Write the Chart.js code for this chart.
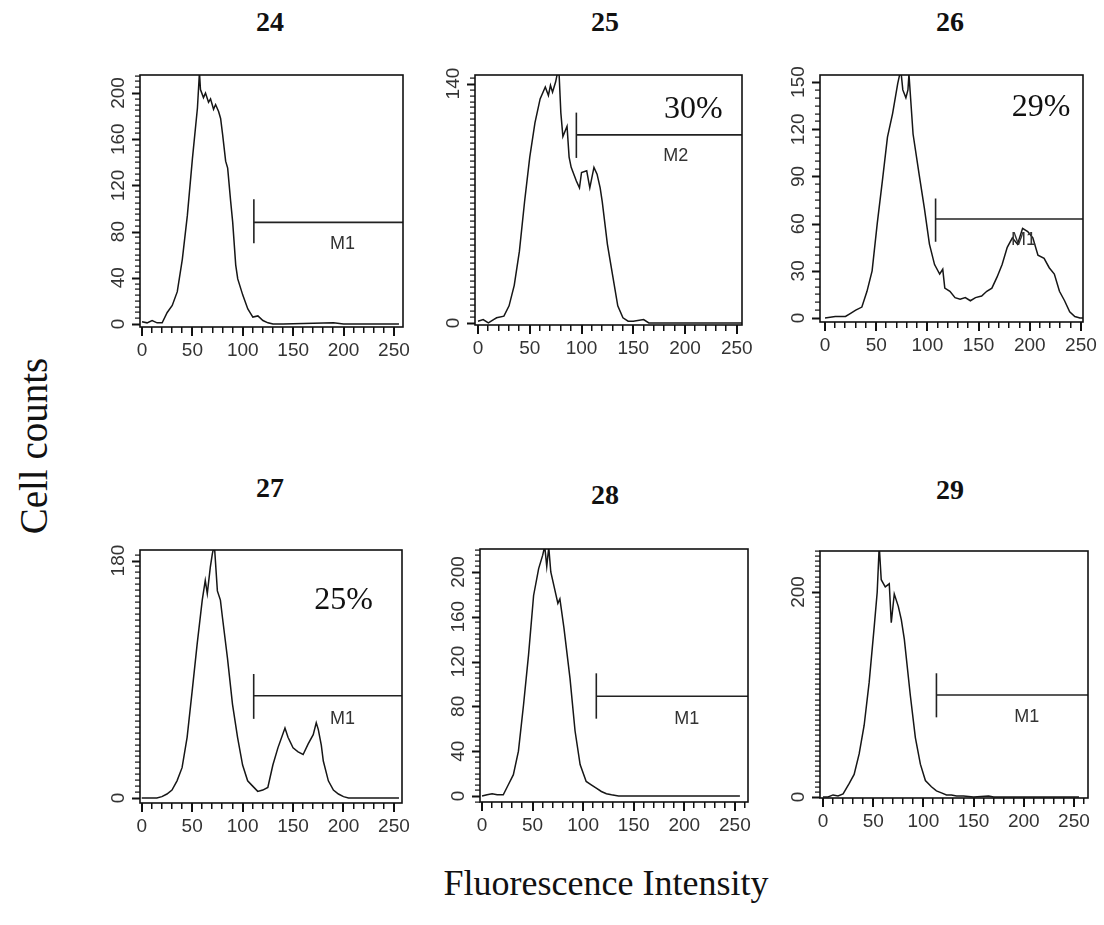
<!DOCTYPE html>
<html>
<head>
<meta charset="utf-8">
<script src="https://cdn.jsdelivr.net/npm/chart.js@4.4.1/dist/chart.umd.min.js"></script>
<style>
  body { margin: 0; background: #fff; width: 1104px; height: 925px; position: relative; overflow: hidden; }
  .panel { position: absolute; line-height: 0; }
  .panel canvas { display: block; }
  .title { position: absolute; transform: translate(-50%, -50%); font: bold 28px 'Liberation Serif', serif; color: #111; }
  .axis { position: absolute; transform: translate(-50%, -50%); font: 36px 'Liberation Serif', serif; color: #111; white-space: nowrap; }
</style>
</head>
<body>
<div class="title" style="left:270px;top:22px">24</div>
<div class="title" style="left:605px;top:22px">25</div>
<div class="title" style="left:950px;top:22px">26</div>
<div class="title" style="left:270px;top:488px">27</div>
<div class="title" style="left:605px;top:495px">28</div>
<div class="title" style="left:950px;top:490px">29</div>
<div class="axis" style="left:33px;top:446px;font-size:39px;transform:translate(-50%,-50%) rotate(-90deg)">Cell counts</div>
<div class="axis" style="left:606px;top:883px">Fluorescence Intensity</div>

<script>
// histogram channels / counts
const chan24 = [0,5,10,15,20,25,30,35,40,45,50,55,57,58,61,63,66,68,71,73,76,78,80,83,85,88,90,93,95,100,105,110,115,120,125,130,140,190,200,255];
const count24 = [2,1,3,1,1,10,16,28,56,94,143,187,218,203,196,200,192,195,186,190,184,178,164,141,135,106,88,51,39,25,13,6,7,3,1,0,0,1,0,0];

const chan25 = [0,5,10,15,18,25,30,35,40,45,50,55,60,65,68,70,72,75,78,80,82,86,88,90,95,98,100,105,108,112,115,118,120,125,130,135,140,145,150,160,165,255];
const count25 = [1,2,0,2,3,4,10,22,42,71,97,117,131,138,133,139,135,141,150,123,109,115,97,91,83,79,88,89,79,91,87,79,71,46,28,10,3,1,1,2,0,0];

const chan26 = [0,10,20,25,30,36,41,46,51,56,61,66,71,74,76,79,81,82,86,92,97,102,107,112,115,117,122,127,132,137,142,147,153,158,163,168,173,178,183,188,193,198,203,208,214,219,224,229,234,239,244,249,255];
const count26 = [0,1,1,3,5,7,17,30,60,87,115,130,149,158,145,140,145,155,117,91,70,47,34,28,31,19,17,13,12,13,11,13,14,17,19,26,34,45,51,47,57,55,51,40,38,32,28,17,11,4,1,0,0];

const chan27 = [0,15,20,25,30,35,40,45,50,55,60,63,65,68,70,72,75,78,80,85,90,95,100,105,110,115,120,125,130,135,142,145,150,155,160,165,170,173,175,178,180,185,190,195,200,205,255];
const count27 = [0,0,1,3,6,13,23,46,81,117,150,165,155,175,185,192,157,150,137,106,71,46,25,13,9,5,6,8,25,38,53,46,38,35,33,41,48,57,52,40,28,13,6,3,1,0,0];

const chan28 = [0,5,10,15,21,26,31,36,41,46,51,56,60,62,64,66,68,71,75,77,81,87,92,97,103,108,113,118,123,128,135,255];
const count28 = [0,1,2,1,1,10,19,40,81,126,179,203,215,223,205,222,200,188,172,176,150,105,58,28,13,10,7,4,2,1,0,0];

const chan29 = [0,5,10,15,20,26,31,36,41,46,51,54,56,58,62,66,68,71,75,78,81,87,92,97,102,108,113,118,123,128,133,140,150,165,170,255];
const count29 = [0,0,2,1,3,13,22,42,70,112,166,200,245,212,205,208,170,198,186,173,154,99,58,32,16,10,6,4,2,2,1,1,0,1,0,0];

// tick labels
const xLabels = [0, 50, 100, 150, 200, 250];
const yLabels24 = [0, 40, 80, 120, 160, 200];
const yLabels25 = [0, 140];
const yLabels26 = [0, 30, 60, 90, 120, 150];
const yLabels27 = [0, 180];
const yLabels28 = [0, 40, 80, 120, 160, 200];
const yLabels29 = [0, 200];

// marker gates (channel start, level, bar low/high) and labels
const gateStart = [111, 95, 108, 111, 113, 113];
const gateLevel = [88, 110, 63, 77.5, 89, 99.5];
const gateLow = [70, 96.5, 48.5, 60, 69, 77.7];
const gateHigh = [108, 123, 76, 94, 109.5, 120.7];
const gateName = ['M1', 'M2', 'M1', 'M1', 'M1', 'M1'];
const percentText = ['', '30%', '29%', '25%', '', ''];

// layout of each panel: plot box in page pixels, axis ranges, text anchors (data units)
const panels = [
  { chan: chan24, count: count24, yLabels: yLabels24, box: [140, 75, 403, 327], x: [-2, 259], y: [-2.6, 215.6], yStep: 5, nameAt: [199, 69], pctAt: null },
  { chan: chan25, count: count25, yLabels: yLabels25, box: [475, 75, 742, 325], x: [-2.9, 255], y: [-1.2, 145], yStep: 3.5, nameAt: [191, 97.5], pctAt: [208, 125] },
  { chan: chan26, count: count26, yLabels: yLabels26, box: [820, 75, 1083, 322], x: [-4.9, 252], y: [-2.5, 154.5], yStep: 5, nameAt: [194, 49.6], pctAt: [211, 134] },
  { chan: chan27, count: count27, yLabels: yLabels27, box: [140, 550, 402, 803], x: [-1.7, 258], y: [-3.8, 188], yStep: 4.5, nameAt: [199, 60], pctAt: [200, 150] },
  { chan: chan28, count: count28, yLabels: yLabels28, box: [480, 549, 748, 802], x: [-2, 263], y: [-5.4, 220.5], yStep: 5, nameAt: [202.5, 69], pctAt: null },
  { chan: chan29, count: count29, yLabels: yLabels29, box: [820, 551, 1088, 798], x: [-3, 264], y: [-1, 240], yStep: 5, nameAt: [203, 77.7], pctAt: null }
];

const PAD = { left: 5, top: 10, right: 20, bottom: 5 };
const Y_W = 40, X_H = 30;
const X_STEP = 10;
const tickFont = "19px 'Liberation Sans', Arial, sans-serif";

// frame, tick marks, tick labels and gate text
const framePlugin = {
  id: 'frame',
  afterDraw(chart, args, opts) {
    const { ctx, chartArea: a } = chart;
    const x = chart.scales.x, y = chart.scales.y;
    ctx.save();
    ctx.fillStyle = '#111';
    const bottom = Math.round(a.bottom);
    for (let v = 0; v <= x.max; v += X_STEP) {
      const px = Math.round(x.getPixelForValue(v));
      const major = v % 50 === 0;
      ctx.fillRect(px - 1, bottom, major ? 2 : 1.5, major ? 9 : 6);
    }
    const left = Math.round(a.left);
    y.ticks.forEach(t => {
      const py = Math.round(y.getPixelForValue(t.value));
      const major = opts.yLabels.includes(t.value);
      ctx.fillRect(left - (major ? 8 : 5), py - 0.5, major ? 8 : 5, major ? 2 : 1.2);
    });

    ctx.strokeStyle = '#111';
    ctx.lineWidth = 1.6;
    ctx.strokeRect(a.left, a.top, a.right - a.left, a.bottom - a.top);

    ctx.fillStyle = '#333';
    ctx.font = tickFont;
    ctx.textAlign = 'center';
    ctx.textBaseline = 'middle';
    xLabels.forEach(v => ctx.fillText(String(v), x.getPixelForValue(v), a.bottom + 24));
    opts.yLabels.forEach(v => {
      ctx.save();
      ctx.translate(a.left - 21, y.getPixelForValue(v));
      ctx.rotate(-Math.PI / 2);
      ctx.fillText(String(v), 0, 0);
      ctx.restore();
    });

    ctx.font = "18px 'Liberation Sans', Arial, sans-serif";
    ctx.fillText(opts.name, x.getPixelForValue(opts.nameAt[0]), y.getPixelForValue(opts.nameAt[1]));
    if (opts.pct) {
      ctx.fillStyle = '#111';
      ctx.font = "32px 'Liberation Serif', serif";
      ctx.fillText(opts.pct, x.getPixelForValue(opts.pctAt[0]), y.getPixelForValue(opts.pctAt[1]));
    }
    ctx.restore();
  }
};

panels.forEach((p, i) => {
  const [L, T, R, B] = p.box;
  const w = PAD.left + Y_W + (R - L) + PAD.right;
  const h = PAD.top + (B - T) + X_H + PAD.bottom;
  const div = document.createElement('div');
  div.className = 'panel';
  div.style.left = (L - PAD.left - Y_W) + 'px';
  div.style.top = (T - PAD.top) + 'px';
  const canvas = document.createElement('canvas');
  canvas.width = w;
  canvas.height = h;
  div.appendChild(canvas);
  document.body.appendChild(div);

  const hist = p.chan.map((c, k) => ({ x: c, y: p.count[k] }));
  const gateH = [{ x: gateStart[i], y: gateLevel[i] }, { x: p.x[1], y: gateLevel[i] }];
  const gateV = [{ x: gateStart[i], y: gateLow[i] }, { x: gateStart[i], y: gateHigh[i] }];

  new Chart(canvas.getContext('2d'), {
    type: 'line',
    data: {
      datasets: [
        { data: hist, borderColor: '#161616', borderWidth: 1.5, pointRadius: 0, tension: 0, fill: false },
        { data: gateH, borderColor: '#222', borderWidth: 1.6, pointRadius: 0, fill: false },
        { data: gateV, borderColor: '#222', borderWidth: 1.6, pointRadius: 0, fill: false }
      ]
    },
    options: {
      responsive: false,
      animation: false,
      events: [],
      layout: { padding: PAD },
      plugins: {
        legend: { display: false },
        tooltip: { enabled: false },
        frame: { yLabels: p.yLabels, name: gateName[i], nameAt: p.nameAt, pct: percentText[i], pctAt: p.pctAt }
      },
      scales: {
        x: {
          type: 'linear',
          min: p.x[0],
          max: p.x[1],
          afterFit: s => { s.height = X_H; },
          ticks: { display: false, stepSize: X_STEP, includeBounds: false },
          grid: { display: false },
          border: { display: false }
        },
        y: {
          type: 'linear',
          min: p.y[0],
          max: p.y[1],
          afterFit: s => { s.width = Y_W; },
          ticks: { display: false, stepSize: p.yStep, includeBounds: false },
          grid: { display: false },
          border: { display: false }
        }
      }
    },
    plugins: [framePlugin]
  });
});
</script>
</body>
</html>
